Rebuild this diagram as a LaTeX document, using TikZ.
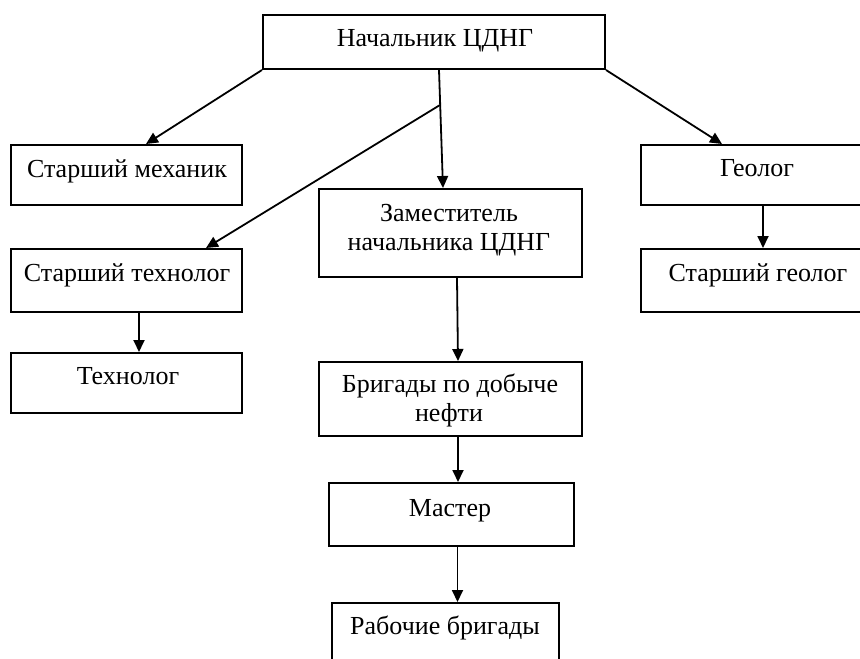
\documentclass[tikz,border=0pt]{standalone}
\usepackage{fontspec}
\setmainfont{Liberation Serif}
\usetikzlibrary{arrows.meta,calc}
\tikzset{
  box/.style={draw=black, line width=2pt, inner sep=0pt, fill=white},
  txt/.style={anchor=base, inner sep=0pt, font=\fontsize{26}{30}\selectfont},
  conn/.style={line width=1.8pt, -{Triangle[length=12pt,width=11pt]}}
}
\begin{document}
\begin{tikzpicture}[x=1pt,y=-1pt]
\useasboundingbox (0,0) rectangle (860,659);
\clip (0,0) rectangle (860,659);
\fill[white] (0,0) rectangle (860,659);
% boxes
\node[box, minimum width=342pt, minimum height=54pt] (top) at (434,42) {};
\node[box, minimum width=231pt, minimum height=60pt] (mech) at (126.5,175) {};
\node[box, minimum width=231pt, minimum height=63pt] (stech) at (126.5,280.5) {};
\node[box, minimum width=231pt, minimum height=60pt] (tech) at (126.5,383) {};
\node[box, minimum width=263pt, minimum height=88pt] (zam) at (450.5,233) {};
\node[box, minimum width=263pt, minimum height=74pt] (brig) at (450.5,399) {};
\node[box, minimum width=245pt, minimum height=63pt] (master) at (451.5,514.5) {};
\node[box, minimum width=227pt, minimum height=67pt] (rab) at (445.5,636.5) {};
\node[box, minimum width=249pt, minimum height=60pt] (geo) at (765.5,175) {};
\node[box, minimum width=249pt, minimum height=63pt] (sgeo) at (765.5,280.5) {};
% texts
\node[txt] (ttop) at (435,46) {Начальник ЦДНГ};
\node[txt] (tmech) at (127,177) {Старший механик};
\node[txt] (tstech) at (127,281) {Старший технолог};
\node[txt] (ttech) at (128,384) {Технолог};
\node[txt] (tzam1) at (449,221) {Заместитель};
\node[txt] (tzam2) at (449,250) {начальника ЦДНГ};
\node[txt] (tbrig1) at (450,392) {Бригады по добыче};
\node[txt] (tbrig2) at (449,421) {нефти};
\node[txt] (tmaster) at (450,516) {Мастер};
\node[txt] (trab) at (445,634) {Рабочие бригады};
\node[txt] (tgeo) at (757,176) {Геолог};
\node[txt] (tsgeo) at (758,281) {Старший геолог};
% connectors
\coordinate (br) at (440,105);
\draw[conn] (top.south west) -- ([xshift=19.5pt]mech.north);
\draw[conn] (top.south east) -- ([xshift=-43.5pt]geo.north);
\draw[conn] ([xshift=5pt]top.south) -- ([xshift=-7.5pt]zam.north);
\draw[conn] (br) -- ([xshift=79.5pt]stech.north);
\draw[conn] ([xshift=12.5pt]stech.south) -- ([xshift=12.5pt]tech.north);
\draw[conn] ([xshift=-2.5pt]geo.south) -- ([xshift=-2.5pt]sgeo.north);
\draw[conn] ([xshift=6.5pt]zam.south) -- ([xshift=7.5pt]brig.north);
\draw[conn] ([xshift=7.5pt]brig.south) -- ([xshift=6.5pt]master.north);
\draw[conn] ([xshift=6pt]master.south) -- ([xshift=12pt]rab.north);
\end{tikzpicture}
\end{document}
